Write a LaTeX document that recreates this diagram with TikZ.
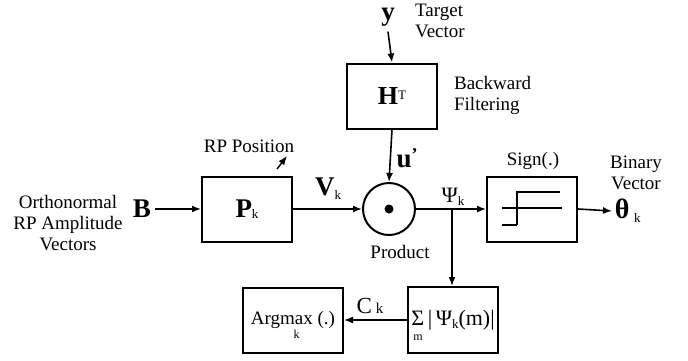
\documentclass[tikz,border=0pt]{standalone}
\usepackage{fontspec}
\setmainfont{Liberation Serif}
\usetikzlibrary{arrows.meta,positioning}
\newcommand{\sbk}[1]{\raisebox{-0.3ex}{\fontsize{13}{13}\selectfont\mdseries #1}}

\begin{document}
\begin{tikzpicture}[x=1pt,y=-1pt,line width=1.6pt,
    >={Latex[length=9pt,width=7pt]},
    box/.style={draw,line width=2pt,minimum width=90pt,minimum height=65pt,inner sep=0pt},
    lab/.style={font=\fontsize{19}{21}\selectfont},
    sym/.style={font=\fontsize{27}{29}\selectfont\bfseries}]
  \useasboundingbox (0,0) rectangle (688,360);
  % blocks
  \node[box] (pk) at (247,209) {{\fontsize{27}{29}\selectfont\bfseries P}\sbk{k}};
  \node[box] (ht) at (392,96) {{\fontsize{26}{28}\selectfont\bfseries H}\raisebox{1.1ex}{\fontsize{13}{13}\selectfont T}};
  \node[draw,circle,line width=2pt,minimum size=52pt,inner sep=0pt] (prod) at (389,209) {};
  \fill (prod.center) circle (4.5pt);
  \node[box] (sgn) at (532,209) {};
  \draw[line width=2pt,shift={(sgn.center)}] (-30,-1) -- (30,-1) (-15,16) -- (-30,16)
    (-15,16) -- (-15,-17) -- (28,-17);
  \node[box,minimum height=66pt] (sum) at (453,320)
    {\fontsize{22}{24}\selectfont Σ\raisebox{-1.5ex}[0pt][0pt]{\llap{\fontsize{12}{12}\selectfont m\hspace{1.5pt}}}\,|\,Ψ\sbk{k}(m)|};
  \node[box,minimum width=100pt] (amax) at (293,320)
    {\fontsize{19}{21}\selectfont Arg\ooalign{max\cr\hidewidth\raisebox{-1.6ex}[0pt][0pt]{\fontsize{12}{12}\selectfont k}\hidewidth\cr} (.)};
  % labels
  \node[sym] (b) at (142,209) {B};
  \node[lab,align=center] (orth) at (68,223) {Orthonormal\\RP Amplitude\\Vectors};
  \node[lab] (rppos) at (249,146) {RP Position};
  \coordinate (rpt) at (277,169);
  \coordinate (rph) at (287,156);
  \node[sym] (vk) at (328,189) {V\sbk{k}};
  \node[sym,anchor=base,inner sep=1pt] (y) at (388,20) {y};
  \node[lab,align=left,anchor=north west] (tgt) at (411,0) {Target\\Vector};
  \node[lab,align=left,anchor=west] (bwd) at (450,95) {Backward\\Filtering};
  \node[sym] (u) at (407,158) {u\raisebox{0.6ex}{\fontsize{18}{18}\selectfont '}};
  \node[font=\fontsize{22}{24}\selectfont] (psi) at (453,197) {Ψ\sbk{k}};
  \node[lab] (prodlab) at (400,252) {Product};
  \node[lab] (sgnlab) at (533,161) {Sign(.)};
  \node[lab,align=center] (binv) at (636,173) {Binary\\Vector};
  \node[anchor=west,font=\fontsize{28}{30}\selectfont\bfseries,inner sep=2pt] (th) at (612,211) {θ\,\sbk{k}};
  \node[font=\fontsize{23}{25}\selectfont] (ck) at (370,306) {C\,{\fontsize{15}{15}\selectfont k}};
  % connectors
  \draw[->] (b.east) -- (pk.west);
  \draw[->,line width=1.4pt] (rpt) -- (rph);
  \draw[->] (pk.east) -- (prod.west);
  \draw[->] ([yshift=-4pt]y.south) -- (ht.north);
  \draw[->] (ht.south) -- (prod.north);
  \draw[->] (prod.east) -- (sgn.west);
  \draw[->] (sgn.east) -- (th.west);
  \coordinate (br) at (452,209);
  \draw[->] (br) -- (br |- sum.north);
  \draw[->] (sum.west) -- (amax.east);
\end{tikzpicture}
\end{document}
